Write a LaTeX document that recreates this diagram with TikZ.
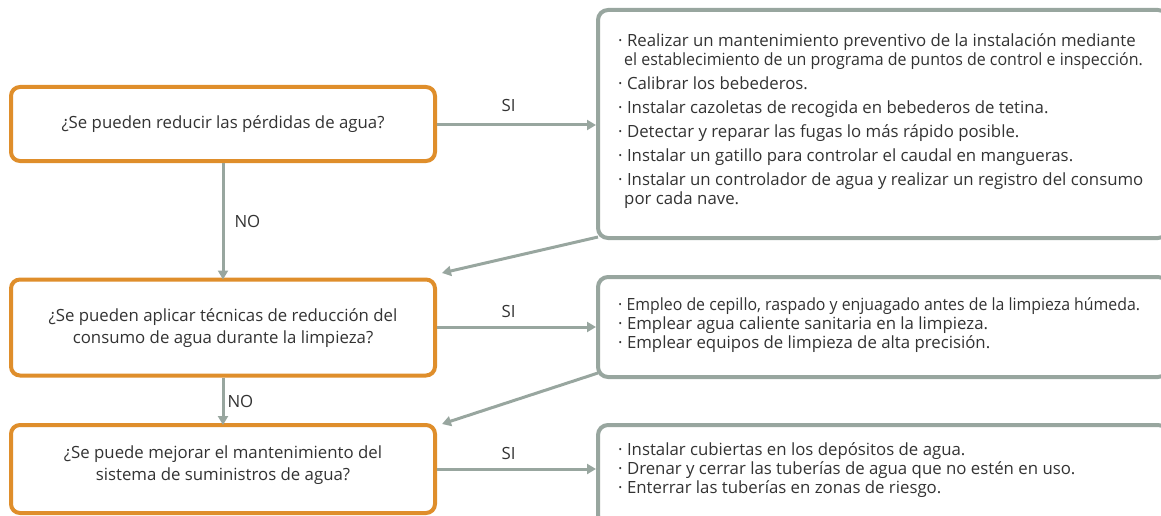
\documentclass[tikz,border=0pt]{standalone}
\usepackage{fontspec}
\setmainfont{Open Sans}
\usetikzlibrary{arrows.meta}
\definecolor{qorange}{RGB}{223,142,43}
\definecolor{agray}{RGB}{152,166,159}
\definecolor{tcol}{RGB}{51,51,51}
\tikzset{
  qbox/.style={draw=qorange, line width=4pt, rounded corners=9pt, fill=white, inner sep=0pt},
  abox/.style={draw=agray, line width=4pt, rounded corners=10pt, fill=white, inner sep=0pt},
  conn/.style={draw=agray, line width=3pt, -{Triangle[length=9pt,width=10pt]}},
  qtext/.style={font=\fontsize{16.8}{21.5}\selectfont, text=tcol, align=center, inner sep=0pt},
  atext/.style={font=\fontsize{16.8}{19}\selectfont, text=tcol, align=left, inner sep=0pt, anchor=west},
  lbl/.style={font=\fontsize{16.8}{18}\selectfont, text=tcol, inner sep=0pt},
}
\newcommand{\hang}{\hspace*{6pt}}
\begin{document}
\begin{tikzpicture}[x=1pt,y=-1pt]
\useasboundingbox (0,0) rectangle (1161,516);
% question boxes
\node[qbox, minimum width=424pt, minimum height=74pt] (q1) at (223,124) {};
\node[qbox, minimum width=424pt, minimum height=96pt] (q2) at (223,327.5) {};
\node[qbox, minimum width=424pt, minimum height=88pt] (q3) at (223,469) {};
\node[qtext] (t1) at (q1.center) {¿Se pueden reducir las pérdidas de agua?};
\node[qtext] (t2) at (223,328) {¿Se pueden aplicar técnicas de reducción del\\consumo de agua durante la limpieza?};
\node[qtext] (t3) at (223,465) {¿Se puede mejorar el mantenimiento del\\sistema de suministros de agua?};
% answer boxes
\node[abox, minimum width=570pt, minimum height=228pt] (a1) at (883,124) {};
\node[abox, minimum width=570pt, minimum height=100pt] (a2) at (883,327) {};
\node[abox, minimum width=570pt, minimum height=100pt] (a3) at (883,475) {};
\node[atext] (u1) at (618,121) {· Realizar un mantenimiento preventivo de la instalación mediante\\
\hang\scalebox{0.95}[1]{el establecimiento de un programa de puntos de control e inspección.}\\[5pt]
· Calibrar los bebederos.\\[5pt]
· Instalar cazoletas de recogida en bebederos de tetina.\\[5pt]
· Detectar y reparar las fugas lo más rápido posible.\\[5pt]
· Instalar un gatillo para controlar el caudal en mangueras.\\[5pt]
· Instalar un controlador de agua y realizar un registro del consumo\\
\hang por cada nave.};
\node[atext] (u2) at (618,325) {\scalebox{0.945}[1]{· Empleo de cepillo, raspado y enjuagado antes de la limpieza húmeda.}\\
· Emplear agua caliente sanitaria en la limpieza.\\
· Emplear equipos de limpieza de alta precisión.};
\node[atext] (u3) at (618,470.5) {· Instalar cubiertas en los depósitos de agua.\\
· Drenar y cerrar las tuberías de agua que no estén en uso.\\
· Enterrar las tuberías en zonas de riesgo.};
% connectors
\draw[conn] (q1.east |- 0,125) -- (a1.west |- 0,125) node[lbl, pos=0.45, above=12pt] {SI};
\draw[conn] (q2.east |- 0,327) -- (a2.west |- 0,327) node[lbl, pos=0.45, above=8pt] {SI};
\draw[conn] (q3.east |- 0,469) -- (a3.west |- 0,469) node[lbl, pos=0.45, above=8pt] {SI};
\draw[conn] (q1.south) -- ([yshift=-2pt]q2.north) node[lbl, midway, right=10pt] {NO};
\draw[conn] (q2.south) -- ([yshift=-2pt]q3.north) node[lbl, midway, right=3pt] {NO};
\coordinate (d1) at (598,237);
\coordinate (d2) at (598,373);
\coordinate (g1) at (442,273);
\coordinate (g2) at (442,424);
\draw[conn] (d1) -- (g1);
\draw[conn] (d2) -- (g2);
\end{tikzpicture}
\end{document}
